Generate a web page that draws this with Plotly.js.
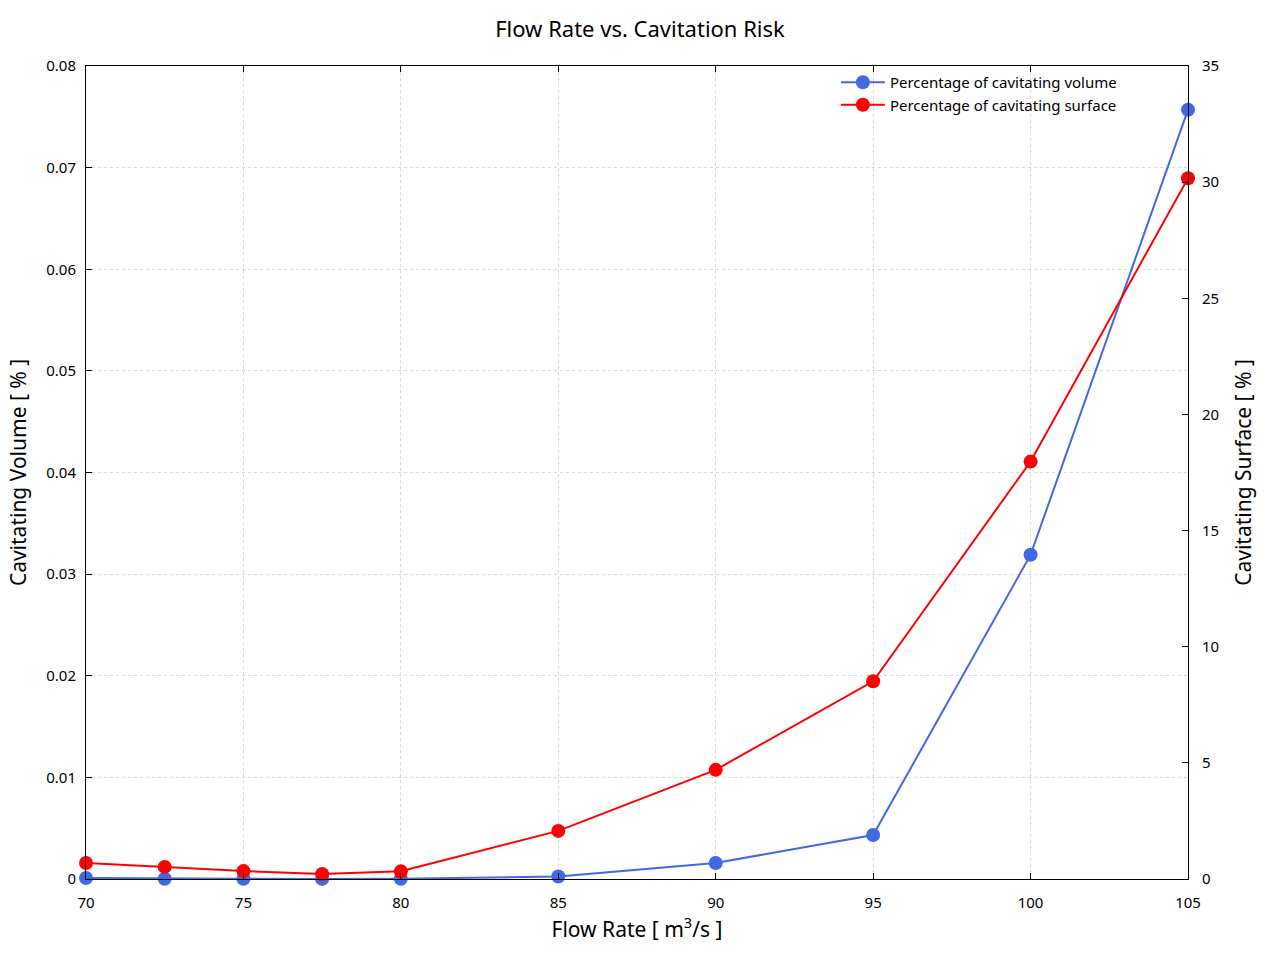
<!DOCTYPE html>
<html>
<head>
<meta charset="utf-8">
<script src="https://cdn.plot.ly/plotly-3.0.1.min.js"></script>
<style>html,body{margin:0;padding:0;background:#fff;}#chart{width:1280px;height:960px;}</style>
</head>
<body>
<div id="chart"></div>
<script>
const flowRate = [70, 72.5, 75, 77.5, 80, 85, 90, 95, 100, 105];
const cavVolume = [0.0001, 0.00003, 0.00002, 0.00001, 0.00002, 0.00025, 0.00158, 0.00433, 0.0319, 0.0757];
const cavSurface = [0.69, 0.52, 0.34, 0.21, 0.33, 2.07, 4.70, 8.51, 17.97, 30.17];
const leftTicks = [0, 0.01, 0.02, 0.03, 0.04, 0.05, 0.06, 0.07, 0.08];
const leftTickLabels = ['0', '0.01', '0.02', '0.03', '0.04', '0.05', '0.06', '0.07', '0.08'];
const rightTicks = [0, 5, 10, 15, 20, 25, 30, 35];
const xTicks = [70, 75, 80, 85, 90, 95, 100, 105];

const FONT = 'Noto Sans, DejaVu Sans, sans-serif';

const traces = [
  {
    x: flowRate, y: cavVolume, name: 'Percentage of cavitating volume',
    type: 'scatter', mode: 'lines+markers', yaxis: 'y', cliponaxis: false,
    line: {color: '#4169e1', width: 2}, marker: {color: '#4169e1', size: 14}
  },
  {
    x: flowRate, y: cavSurface, name: 'Percentage of cavitating surface',
    type: 'scatter', mode: 'lines+markers', yaxis: 'y2', cliponaxis: false,
    line: {color: '#ff0000', width: 2}, marker: {color: '#ff0000', size: 14}
  }
];

const layout = {
  width: 1280, height: 960,
  paper_bgcolor: '#fff', plot_bgcolor: '#fff',
  margin: {l: 86, r: 92, t: 66, b: 81},
  font: {family: FONT, size: 15, color: '#000'},
  title: {text: 'Flow Rate vs. Cavitation Risk', x: 0.5, xanchor: 'center', y: 0.969, yanchor: 'middle', font: {size: 22, family: FONT}},
  showlegend: true,
  legend: {x: 0.94, xanchor: 'right', y: 1.0, yanchor: 'top', bgcolor: 'rgba(0,0,0,0)', font: {size: 15, family: FONT}, tracegroupgap: 0, itemwidth: 44},
  xaxis: {
    range: [70, 105], tickvals: xTicks, ticktext: xTicks.map(String),
    ticks: 'inside', ticklen: 6, tickcolor: '#000', tickwidth: 1,
    showline: true, linecolor: '#000', linewidth: 1, mirror: 'ticks',
    showgrid: true, gridcolor: '#d9d9d9', griddash: 'dot', gridwidth: 1,
    zeroline: false, tickfont: {size: 15}, ticklabelstandoff: 10,
    title: {text: 'Flow Rate [ m<sup>3</sup>/s ]', font: {size: 21}, standoff: 10}
  },
  yaxis: {
    range: [0, 0.08], tickvals: leftTicks, ticktext: leftTickLabels,
    ticks: 'inside', ticklen: 6, tickcolor: '#000', tickwidth: 1,
    showline: true, linecolor: '#000', linewidth: 1, mirror: false,
    showgrid: true, gridcolor: '#d9d9d9', griddash: 'dot', gridwidth: 1,
    zeroline: false, tickfont: {size: 15}, ticklabelstandoff: 6,
    title: {text: 'Cavitating Volume [ % ]', font: {size: 21}, standoff: 13}
  },
  yaxis2: {
    range: [0, 35], tickvals: rightTicks, ticktext: rightTicks.map(String),
    overlaying: 'y', side: 'right',
    ticks: 'inside', ticklen: 6, tickcolor: '#000', tickwidth: 1,
    showline: true, linecolor: '#000', linewidth: 1,
    showgrid: false, zeroline: false, tickfont: {size: 15}, ticklabelstandoff: 10,
    title: {text: 'Cavitating Surface [ % ]', font: {size: 21}, standoff: 18}
  }
};

Plotly.newPlot('chart', traces, layout, {displayModeBar: false, staticPlot: true});
</script>
</body>
</html>
